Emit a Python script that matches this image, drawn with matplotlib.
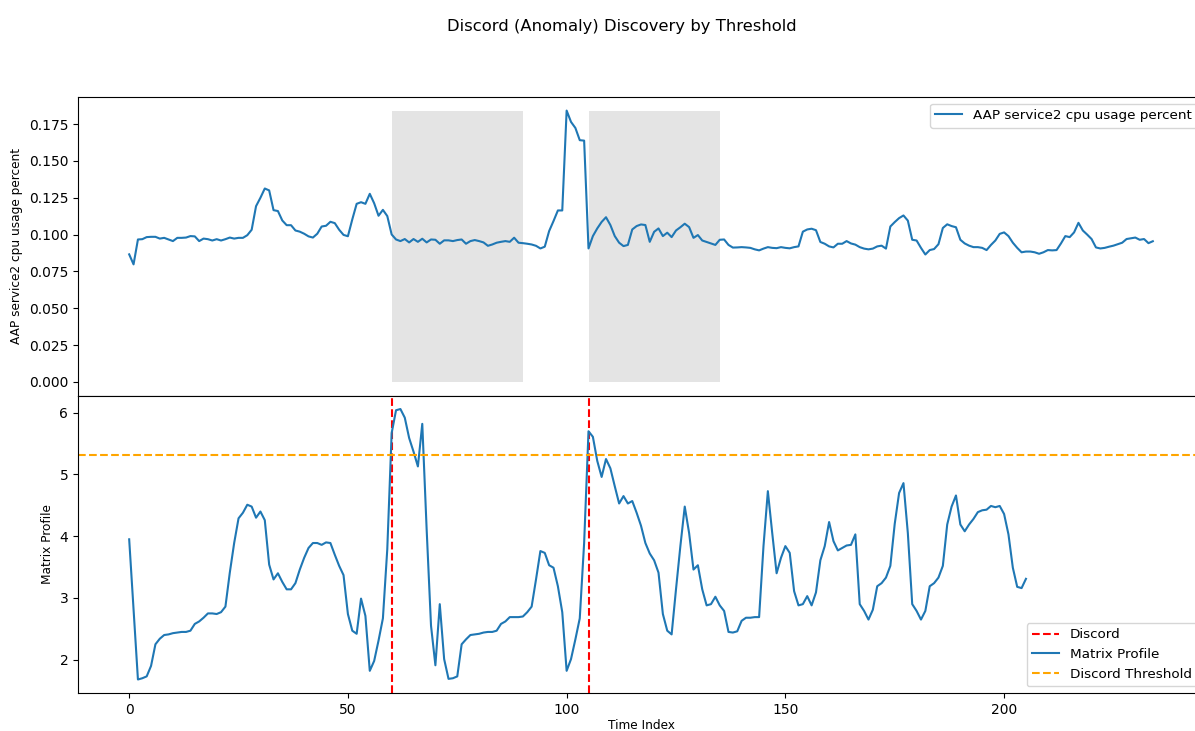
import matplotlib
matplotlib.use('Agg')
import matplotlib.pyplot as plt
from matplotlib.patches import Rectangle
import numpy as np

# cpu usage series (index 0..234)
cpu_usage = [
    0.0866, 0.0798, 0.0967, 0.0969, 0.0983, 0.0985, 0.0985, 0.0973, 0.0978, 0.0967,
    0.0956, 0.0978, 0.0978, 0.0980, 0.0990, 0.0988, 0.0956, 0.0973, 0.0969, 0.0960,
    0.0969, 0.0960, 0.0969, 0.0980, 0.0973, 0.0978, 0.0978, 0.0996, 0.1033, 0.1193,
    0.1250, 0.1313, 0.1300, 0.1166, 0.1160, 0.1096, 0.1064, 0.1064, 0.1028, 0.1020,
    0.1006, 0.0988, 0.0980, 0.1006, 0.1055, 0.1060, 0.1087, 0.1078, 0.1033, 0.0998,
    0.0989, 0.1103, 0.1209, 0.1220, 0.1209, 0.1277, 0.1213, 0.1128, 0.1168, 0.1126,
    0.1001, 0.0967, 0.0956, 0.0970, 0.0947, 0.0970, 0.0951, 0.0972, 0.0947, 0.0967,
    0.0965, 0.0938, 0.0961, 0.0961, 0.0956, 0.0963, 0.0967, 0.0938, 0.0956, 0.0963,
    0.0956, 0.0947, 0.0924, 0.0933, 0.0945, 0.0951, 0.0956, 0.0951, 0.0979, 0.0945,
    0.0942, 0.0938, 0.0933, 0.0924, 0.0906, 0.0918, 0.1024, 0.1092, 0.1164, 0.1164,
    0.1842, 0.1765, 0.1724, 0.1641, 0.1638, 0.0906, 0.0990, 0.1042, 0.1086, 0.1118,
    0.1065, 0.0990, 0.0945, 0.0922, 0.0930, 0.1035, 0.1058, 0.1069, 0.1065, 0.0951,
    0.1019, 0.1042, 0.0990, 0.1013, 0.0983, 0.1028, 0.1050, 0.1074, 0.1051, 0.0978,
    0.0997, 0.0960, 0.0950, 0.0940, 0.0930, 0.0965, 0.0967, 0.0930, 0.0912, 0.0913,
    0.0915, 0.0913, 0.0910, 0.0900, 0.0893, 0.0905, 0.0915, 0.0910, 0.0908, 0.0915,
    0.0910, 0.0907, 0.0915, 0.0920, 0.1020, 0.1035, 0.1040, 0.1030, 0.0950, 0.0938,
    0.0920, 0.0913, 0.0938, 0.0938, 0.0956, 0.0940, 0.0932, 0.0915, 0.0905, 0.0900,
    0.0905, 0.0920, 0.0925, 0.0905, 0.1055, 0.1085, 0.1112, 0.1130, 0.1095, 0.0965,
    0.0960, 0.0910, 0.0865, 0.0895, 0.0902, 0.0935, 0.1045, 0.1070, 0.1058, 0.1050,
    0.0965, 0.0940, 0.0925, 0.0915, 0.0915, 0.0910, 0.0895, 0.0930, 0.0960, 0.1005,
    0.1015, 0.0990, 0.0945, 0.0910, 0.0880, 0.0885, 0.0885, 0.0880, 0.0870, 0.0880,
    0.0895, 0.0893, 0.0895, 0.0940, 0.0990, 0.0983, 0.1015, 0.1080, 0.1028, 0.1000,
    0.0970, 0.0913, 0.0906, 0.0910, 0.0918, 0.0925, 0.0935, 0.0945, 0.0970, 0.0975,
    0.0980, 0.0965, 0.0970, 0.0942, 0.0955,
]

# matrix profile (index 0..205)
matrix_profile = [
    3.95, 2.82, 1.68, 1.70, 1.73, 1.90, 2.25, 2.34, 2.40, 2.41,
    2.43, 2.44, 2.45, 2.45, 2.47, 2.58, 2.62, 2.68, 2.75, 2.75,
    2.74, 2.77, 2.86, 3.41, 3.89, 4.29, 4.38, 4.51, 4.48, 4.30,
    4.40, 4.26, 3.54, 3.30, 3.40, 3.26, 3.14, 3.14, 3.24, 3.46,
    3.65, 3.81, 3.89, 3.89, 3.86, 3.90, 3.89, 3.70, 3.52, 3.37,
    2.74, 2.47, 2.42, 2.99, 2.71, 1.82, 1.98, 2.31, 2.67, 3.79,
    5.67, 6.04, 6.06, 5.92, 5.59, 5.37, 5.13, 5.82, 4.11, 2.55,
    1.91, 2.90, 2.01, 1.69, 1.70, 1.73, 2.25, 2.33, 2.40, 2.41,
    2.42, 2.44, 2.45, 2.45, 2.47, 2.58, 2.62, 2.69, 2.69, 2.69,
    2.70, 2.77, 2.86, 3.30, 3.76, 3.73, 3.53, 3.49, 3.19, 2.77,
    1.82, 2.01, 2.33, 2.67, 3.89, 5.70, 5.61, 5.22, 4.96, 5.25,
    5.10, 4.81, 4.53, 4.65, 4.53, 4.57, 4.38, 4.17, 3.89, 3.72,
    3.61, 3.41, 2.74, 2.47, 2.41, 3.14, 3.84, 4.48, 4.05, 3.46,
    3.53, 3.14, 2.88, 2.90, 3.02, 2.88, 2.79, 2.45, 2.44, 2.46,
    2.63, 2.68, 2.68, 2.69, 2.69, 3.84, 4.73, 4.05, 3.40, 3.65,
    3.84, 3.73, 3.11, 2.88, 2.90, 3.03, 2.88, 3.09, 3.61, 3.84,
    4.23, 3.92, 3.77, 3.81, 3.85, 3.86, 4.03, 2.90, 2.79, 2.65,
    2.81, 3.19, 3.24, 3.33, 3.52, 4.20, 4.70, 4.86, 4.05, 2.90,
    2.79, 2.65, 2.79, 3.19, 3.24, 3.33, 3.52, 4.19, 4.48, 4.66,
    4.19, 4.08, 4.19, 4.28, 4.39, 4.42, 4.43, 4.49, 4.47, 4.49,
    4.36, 4.03, 3.49, 3.18, 3.16, 3.31,
]

discords = [60, 105]
window = 30
threshold = 5.32
series_name = 'AAP service2 cpu usage percent'

fig = plt.figure(figsize=(11.95, 7.31), dpi=100)
# the original image is cut on the right, so the axes run past the figure edge
ax_ts = fig.add_axes([78 / 1195, 1 - 395.5 / 731, 1126 / 1195, 298.5 / 731])
ax_mp = fig.add_axes([78 / 1195, 1 - 693 / 731, 1126 / 1195, 297.5 / 731], sharex=ax_ts)

fig.suptitle('Discord (Anomaly) Discovery by Threshold', x=622 / 1195, y=1 - 26 / 731,
             va='center', fontsize=11.8)

ax_ts.plot(np.arange(len(cpu_usage)), cpu_usage, label=series_name)
for d in discords:
    ax_ts.add_patch(Rectangle((d, 0), window, max(cpu_usage), facecolor='lightgrey', alpha=0.6,
                              edgecolor='none'))
ax_ts.set_ylabel(series_name, fontsize=8.7)
ax_ts.legend(loc='upper right', fontsize=9.7)
plt.setp(ax_ts.get_xticklabels(), visible=False)

for n, d in enumerate(discords):
    ax_mp.axvline(d, color='red', linestyle='--', label='Discord' if n == 0 else None)
ax_mp.plot(np.arange(len(matrix_profile)), matrix_profile, label='Matrix Profile')
ax_mp.axhline(threshold, color='orange', linestyle='--', label='Discord Threshold')
ax_mp.set_ylabel('Matrix Profile', fontsize=8.7)
ax_mp.set_xlabel('Time Index', fontsize=8.7, labelpad=1.5)
ax_mp.legend(loc='lower right', fontsize=9.7)

plt.savefig('out.png', dpi=100)
